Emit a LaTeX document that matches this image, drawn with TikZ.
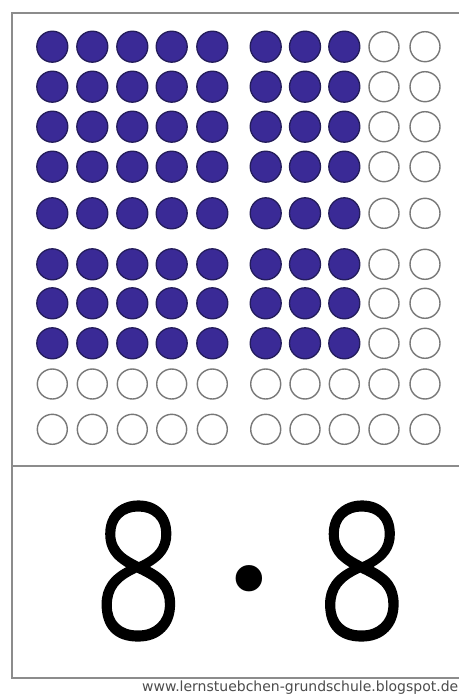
\documentclass[tikz,border=0pt]{standalone}
\usepackage{fontspec}
\setmainfont{DejaVu Sans}
\newfontfamily\eightfont{Open Sans}[UprightFont={* Light},FakeBold=1.5]
\definecolor{beadfill}{RGB}{58,42,150}
\definecolor{beadedge}{RGB}{35,28,90}
\definecolor{emptyedge}{RGB}{120,120,120}
\definecolor{framecol}{RGB}{140,140,140}
\tikzset{
  fullbead/.style={circle,minimum size=31pt,inner sep=0pt,fill=beadfill,draw=beadedge,line width=1.3pt},
  emptybead/.style={circle,minimum size=30pt,inner sep=0pt,fill=white,draw=emptyedge,line width=1.4pt},
  frameline/.style={draw=framecol,line width=1.8pt},
  bigdigit/.style={inner sep=0pt,font=\eightfont\fontsize{188}{188}\selectfont},
}
\begin{document}
\begin{tikzpicture}[x=1pt,y=-1pt]
\useasboundingbox[fill=white] (0,0) rectangle (458,695);
% frame
\coordinate (tl) at (12,13);
\coordinate (br) at (466,678);
\coordinate (dl) at (12,466);
\coordinate (dr) at (466,466);
\draw[frameline] (tl) rectangle (br);
\draw[frameline] (dl) -- (dr);
% beads
\def\colx{{52.3,92.3,132.3,171.7,212.3,265.7,305,344.3,384,425}}
\def\rowy{{46.7,86.7,126.7,166.7,213.3,264.3,303.3,343.3,384,429.3}}
\foreach \r in {1,...,10}{
  \foreach \c in {1,...,10}{
    \pgfmathsetmacro{\xx}{\colx[\c-1]}
    \pgfmathsetmacro{\yy}{\rowy[\r-1]}
    \pgfmathtruncatemacro{\isfull}{(\r<9)&&(\c<9)}
    \ifnum\isfull=1
      \node[fullbead] (b-\r-\c) at (\xx,\yy) {};
    \else
      \node[emptybead] (b-\r-\c) at (\xx,\yy) {};
    \fi
  }
}
% task
\node[bigdigit] (e1) at (138.5,571) {\scalebox{0.84}[1]{8}};
\node[inner sep=0pt,font=\fontsize{91}{91}\selectfont] (dot) at (249,589.5) {•};
\node[bigdigit] (e2) at (362,571) {\scalebox{0.84}[1]{8}};
% watermark
\node[anchor=base west,inner sep=0pt,text=black!70,font=\fontsize{14}{14}\selectfont] (wm) at (142,691) {www.lernstuebchen-grundschule.blogspot.de};
\end{tikzpicture}
\end{document}
